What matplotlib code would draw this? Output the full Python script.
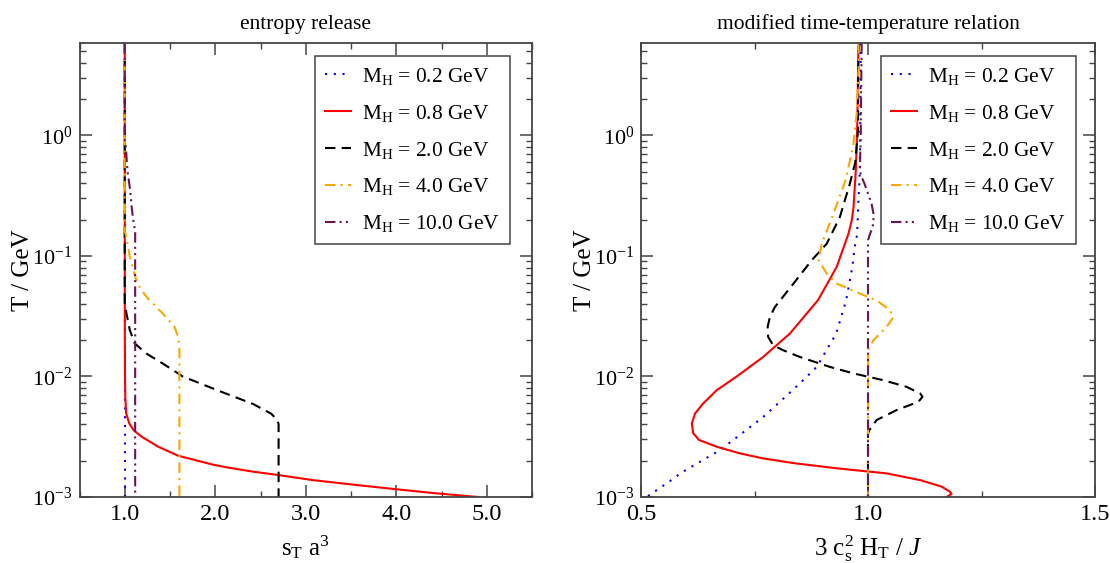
import matplotlib
matplotlib.use("Agg")
import matplotlib.pyplot as plt
from matplotlib.ticker import MultipleLocator, LogLocator, NullFormatter, FormatStrFormatter

plt.rcParams['font.family'] = ['Liberation Serif', 'DejaVu Serif']
plt.rcParams['mathtext.fontset'] = 'custom'
plt.rcParams['mathtext.rm'] = 'Liberation Serif'
plt.rcParams['mathtext.it'] = 'Liberation Serif:italic'
plt.rcParams['mathtext.bf'] = 'Liberation Serif:bold'
plt.rcParams['axes.unicode_minus'] = False

# masses and legend
masses = ['0.2', '0.8', '2.0', '4.0', '10.0']
colors = ['#0000ff', '#ff0000', '#000000', '#ffa500', '#6b1650']
styles = [(0, (1, 3.2)), '-', (0, (5, 3)), (0, (5, 2.5, 1, 2.5)), (0, (5, 2, 1, 2, 1, 2))]

# ---- left panel: entropy release  (T in GeV, s_T a^3)
L_T_02 = [1e-3, 5.8]
L_x_02 = [1.0, 1.0]
L_T_08 = [5.8, 0.1, 0.02, 0.01, 6.78e-3, 4.93e-3, 4.07e-3, 3.59e-3, 3.16e-3, 2.61e-3, 2.2e-3,
          1.85e-3, 1.75e-3, 1.63e-3, 1.52e-3, 1.38e-3, 1.26e-3, 1.17e-3, 1.08e-3, 1.0e-3]
L_x_08 = [1.0, 1.0, 1.001, 1.003, 1.006, 1.016, 1.05, 1.097, 1.188, 1.371, 1.59,
          1.98, 2.15, 2.4, 2.70, 3.08, 3.55, 3.95, 4.4, 4.9]
L_T_20 = [5.8, 0.04, 0.0333, 0.0242, 0.0188, 0.0155, 0.0128, 0.01, 7.7e-3, 5.9e-3, 4.9e-3,
          4.3e-3, 4e-3, 1e-3]
L_x_20 = [1.0, 1.0, 1.019, 1.056, 1.11, 1.238, 1.42, 1.64, 2.02, 2.42, 2.62,
          2.69, 2.70, 2.70]
L_T_40 = [5.8, 0.16, 0.143, 0.098, 0.059, 0.0457, 0.0333, 0.0258, 0.0213, 0.0176, 1e-3]
L_x_40 = [1.0, 1.0, 1.019, 1.056, 1.137, 1.24, 1.42, 1.55, 1.59, 1.604, 1.604]
L_T_100 = [5.8, 0.9, 0.8, 0.51, 0.35, 0.239, 0.185, 0.16, 1e-3]
L_x_100 = [1.0, 1.0, 1.012, 1.03, 1.06, 1.08, 1.10, 1.115, 1.115]

# ---- right panel: modified time-temperature relation (3 c_s^2 H_T / J)
R_T_02 = [5.8, 1.0, 0.5, 0.29, 0.15, 0.12, 0.079, 0.043, 0.0227, 0.012, 8.75e-3, 4.6e-3,
          2.45e-3, 1.6e-3, 1.3e-3, 1e-3]
R_x_02 = [0.984, 0.983, 0.982, 0.979, 0.976, 0.971, 0.965, 0.952, 0.93, 0.887, 0.850, 0.769,
          0.674, 0.59, 0.557, 0.512]
R_T_08 = [5.8, 1.0, 0.5, 0.25, 0.195, 0.153, 0.081, 0.043, 0.0227, 0.0145, 0.01, 7.7e-3,
          5.97e-3, 4.93e-3, 4.07e-3, 3.38e-3, 2.97e-3, 2.61e-3, 2.3e-3, 2.09e-3, 1.91e-3,
          1.73e-3, 1.57e-3, 1.38e-3, 1.22e-3, 1.11e-3, 1.06e-3, 1.0e-3]
R_x_08 = [0.979, 0.976, 0.973, 0.968, 0.964, 0.957, 0.931, 0.890, 0.828, 0.769, 0.711, 0.667,
          0.637, 0.619, 0.612, 0.615, 0.628, 0.667, 0.718, 0.769, 0.836,
          0.931, 1.041, 1.115, 1.162, 1.18, 1.184, 1.173]
R_T_20 = [5.8, 1.1, 0.6, 0.397, 0.21, 0.126, 0.092, 0.059, 0.0377, 0.0312, 0.0258, 0.0213,
          0.01816, 0.0165, 0.0145, 0.012, 0.0106, 0.0093, 0.0082, 0.00722, 0.00678, 0.00616,
          0.00526, 0.00435, 0.00359, 0.00337, 1e-3]
R_x_20 = [0.979, 0.978, 0.972, 0.960, 0.938, 0.909, 0.876, 0.836, 0.795, 0.784, 0.779, 0.780,
          0.791, 0.813, 0.850, 0.916, 0.968, 1.034, 1.085, 1.115, 1.120, 1.111,
          1.063, 1.019, 1.003, 1.0, 1.0]
R_T_40 = [5.8, 3.9, 1.5, 0.8, 0.42, 0.224, 0.126, 0.092, 0.0714, 0.059, 0.0487, 0.0428, 0.0355,
          0.031, 0.0258, 0.02, 0.0166, 1e-3]
R_x_40 = [0.978, 0.980, 0.975, 0.967, 0.950, 0.924, 0.898, 0.891, 0.909, 0.931, 0.982, 1.019, 1.048,
          1.056, 1.041, 1.012, 1.0, 1.0]
R_T_100 = [5.8, 1.0, 0.51, 0.45, 0.4, 0.33, 0.27, 0.224, 0.19, 0.174, 0.15, 0.135, 0.1, 1e-3]
R_x_100 = [0.986, 0.984, 0.982, 0.986, 0.992, 1.0, 1.008, 1.012, 1.012, 1.010, 1.004, 1.0, 1.0, 1.0]

left_T = [L_T_02, L_T_08, L_T_20, L_T_40, L_T_100]
left_x = [L_x_02, L_x_08, L_x_20, L_x_40, L_x_100]
right_T = [R_T_02, R_T_08, R_T_20, R_T_40, R_T_100]
right_x = [R_x_02, R_x_08, R_x_20, R_x_40, R_x_100]

fig = plt.figure(figsize=(11.1, 5.63), dpi=100)
axL = fig.add_axes([79.5/1110, 1-497/563, 452.5/1110, 453.7/563])
axR = fig.add_axes([641/1110, 1-497/563, 454/1110, 453.7/563])

edge = '#444444'


def style(ax, title, xlabel, xlim, xmaj, xmin):
    ax.set_yscale('log')
    ax.set_ylim(1e-3, 5.8)
    ax.set_xlim(*xlim)
    ax.xaxis.set_major_locator(MultipleLocator(xmaj))
    ax.xaxis.set_minor_locator(MultipleLocator(xmin))
    ax.xaxis.set_major_formatter(FormatStrFormatter('%.1f'))
    ax.yaxis.set_major_locator(LogLocator(base=10, numticks=10))
    ax.yaxis.set_minor_locator(LogLocator(base=10, subs=range(2, 10), numticks=20))
    ax.yaxis.set_minor_formatter(NullFormatter())
    ax.tick_params(which='both', direction='in', top=True, right=True, colors=edge,
                   labelcolor='black', labelsize=17.5)
    ax.tick_params(axis='y', labelsize=16)
    ax.tick_params(which='major', length=8.5, width=1.1)
    ax.tick_params(which='minor', length=4.3, width=1.0)
    ax.tick_params(axis='x', pad=5)
    ax.tick_params(axis='y', pad=5)
    for s in ax.spines.values():
        s.set_color(edge)
        s.set_linewidth(1.3)
    ax.set_title(title, fontsize=15.5, pad=10)
    ax.set_xlabel(xlabel, fontsize=18, labelpad=6)
    ax.set_ylabel('T / GeV', fontsize=18)
    ax.yaxis.set_label_coords(-0.1, 0.5)


for ax, Ts, xs, gap in [(axL, left_T, left_x, 22/452.5), (axR, right_T, right_x, 19/454)]:
    for i in range(len(masses)):
        ax.plot(xs[i], Ts[i], color=colors[i], linestyle=styles[i], lw=1.5,
                label=r'M$_\mathrm{H}$ = ' + masses[i] + ' GeV')
    leg = ax.legend(loc='upper right', bbox_to_anchor=(1 - gap, 1 - 13/453.7), borderaxespad=0,
                    fontsize=15.4, frameon=True, fancybox=False,
                    framealpha=1, edgecolor=edge, handlelength=1.2, handletextpad=0.55,
                    labelspacing=0.74, borderpad=0.45)
    leg.get_frame().set_linewidth(1.1)

style(axL, 'entropy release', r'$\mathrm{s_T\ a^3}$', (0.5, 5.5), 1.0, 0.5)
style(axR, 'modified time-temperature relation', r'3 c$_\mathrm{s}^2$ H$_\mathrm{T}$ / $J$',
      (0.5, 1.5), 0.5, 0.25)

fig.savefig('out.png', dpi=100)
